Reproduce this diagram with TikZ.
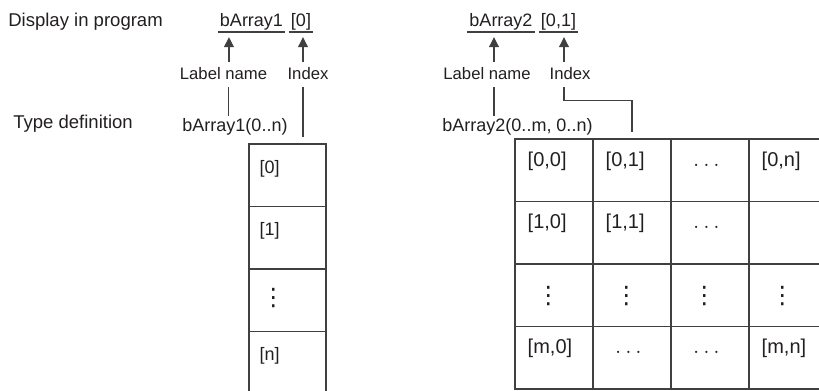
\documentclass[tikz,border=0pt]{standalone}
\usepackage{fontspec}
\setmainfont{Liberation Sans}
\newfontfamily\dotsfont{DejaVu Sans}
\usetikzlibrary{arrows.meta,positioning}
\definecolor{ink}{HTML}{231F20}
\definecolor{rule}{HTML}{404040}

\begin{document}
\begin{tikzpicture}[x=0.75pt,y=-0.75pt,font=\fontsize{13.5}{16}\selectfont,text=ink,every node/.style={inner sep=0pt},
  captxt/.style={font=\fontsize{13.9}{16}\selectfont,anchor=base west},
  arrtxt/.style={anchor=base},
  tagtxt/.style={font=\fontsize{12.5}{15}\selectfont,anchor=base},
  conn/.style={draw=rule,line width=0.8pt},
  arr/.style={conn,-{Triangle[length=7.5pt,width=7.5pt]},shorten <=3.6pt,shorten >=5.4pt},
  cellbox/.style={draw=rule,line width=0.8pt,minimum width=57.75pt,minimum height=46.875pt},
  gridbox/.style={draw=rule,line width=0.8pt,minimum width=58.5pt,minimum height=46.875pt},
  celltxt/.style={anchor=base west},
  gridtxt/.style={font=\fontsize{15}{18}\selectfont,anchor=base west},
  dotstxt/.style={font=\fontsize{16}{18}\selectfont},
  vdotstxt/.style={font=\dotsfont\fontsize{18}{20}\selectfont}]
\useasboundingbox (0,0) rectangle (819,390);
\clip (0,0) rectangle (819,390);
% row captions
\node[captxt] (disp) at (8,26) {Display in program};
\node[captxt] (tdef) at (13,128) {Type definition};
% one-dimensional array
\node[arrtxt] (arrA) at (251.5,26) {bArray1};
\node[arrtxt] (idxA) at (301,26) {[0]};
\node[tagtxt] (lblA) at (223.5,79) {Label name};
\node[tagtxt] (indA) at (308,79) {Index};
\node[arrtxt] (dclA) at (235,131) {bArray1(0..n)};
\draw[conn] ([xshift=-1.5pt,yshift=-4.5pt]arrA.base west) -- ([xshift=1.5pt,yshift=-4.5pt]arrA.base east);
\draw[conn] ([xshift=-1.5pt,yshift=-4.5pt]idxA.base west) -- ([xshift=1.5pt,yshift=-4.5pt]idxA.base east);
\draw[arr] ([xshift=4.1pt]lblA.north) -- ([xshift=4.1pt]lblA.north |- arrA.south);
\draw[arr] ([xshift=-3.75pt]indA.north) -- ([xshift=-3.75pt]indA.north |- idxA.south);
\foreach \i in {1,...,4}
  \node[cellbox] (cA\i) at (287.5,{175.25+62.5*(\i-1)}) {};
\foreach \i/\t in {1/{[0]},2/{[1]},4/{[n]}}
  \node[celltxt] at ([shift={(11,30)}]cA\i.north west) {\t};
\node[vdotstxt] at ([shift={(25,30)}]cA3.north west) {⋮};
\draw[conn,shorten <=6pt,shorten >=1.5pt] ([xshift=3.4pt]lblA.south) -- ([xshift=3.4pt]lblA.south |- dclA.north);
\draw[conn,shorten <=6pt,shorten >=4.5pt] ([xshift=-3.75pt]indA.south) -- ([xshift=-3.75pt]indA.south |- cA1.north);
% two-dimensional array
\node[arrtxt] (arrB) at (501,26) {bArray2};
\node[arrtxt] (idxB) at (558.5,26) {[0,1]};
\node[tagtxt] (lblB) at (487,79) {Label name};
\node[tagtxt] (indB) at (570,79) {Index};
\node[arrtxt] (dclB) at (517.5,131) {bArray2(0..m, 0..n)};
\draw[conn] ([xshift=-1.5pt,yshift=-4.5pt]arrB.base west) -- ([xshift=1.5pt,yshift=-4.5pt]arrB.base east);
\draw[conn] ([xshift=-1.5pt,yshift=-4.5pt]idxB.base west) -- ([xshift=1.5pt,yshift=-4.5pt]idxB.base east);
\draw[arr] ([xshift=5.25pt]lblB.north) -- ([xshift=5.25pt]lblB.north |- arrB.south);
\draw[arr] ([xshift=-4.5pt]indB.north) -- ([xshift=-4.5pt]indB.north |- idxB.south);
\foreach \r in {1,...,4}
  \foreach \c in {1,...,4}
    \node[gridbox] (g\r\c) at ({554+78*(\c-1)},{170.25+62.5*(\r-1)}) {};
\foreach \r/\c/\t in {1/1/{[0,0]},1/2/{[0,1]},1/4/{[0,n]},2/1/{[1,0]},2/2/{[1,1]},4/1/{[m,0]},4/4/{[m,n]}}
  \node[gridtxt] at ([shift={(13,28)}]g\r\c.north west) {\t};
\foreach \r/\c in {1/3,2/3,4/2,4/3}
  \node[dotstxt,anchor=base] at ([shift={(36,28)}]g\r\c.north west) {$\ldots$};
\foreach \c in {1,...,4}
  \node[vdotstxt] at ([shift={(34,33)}]g3\c.north west) {⋮};
\draw[conn,shorten <=6pt,shorten >=1.5pt] ([xshift=5.25pt]lblB.south) -- ([xshift=5.25pt]lblB.south |- dclB.north);
\draw[conn,shorten <=6pt,shorten >=4.5pt] ([xshift=-4.5pt]indB.south) -- ++(0,21) -| (g12.north);
\end{tikzpicture}
\end{document}
